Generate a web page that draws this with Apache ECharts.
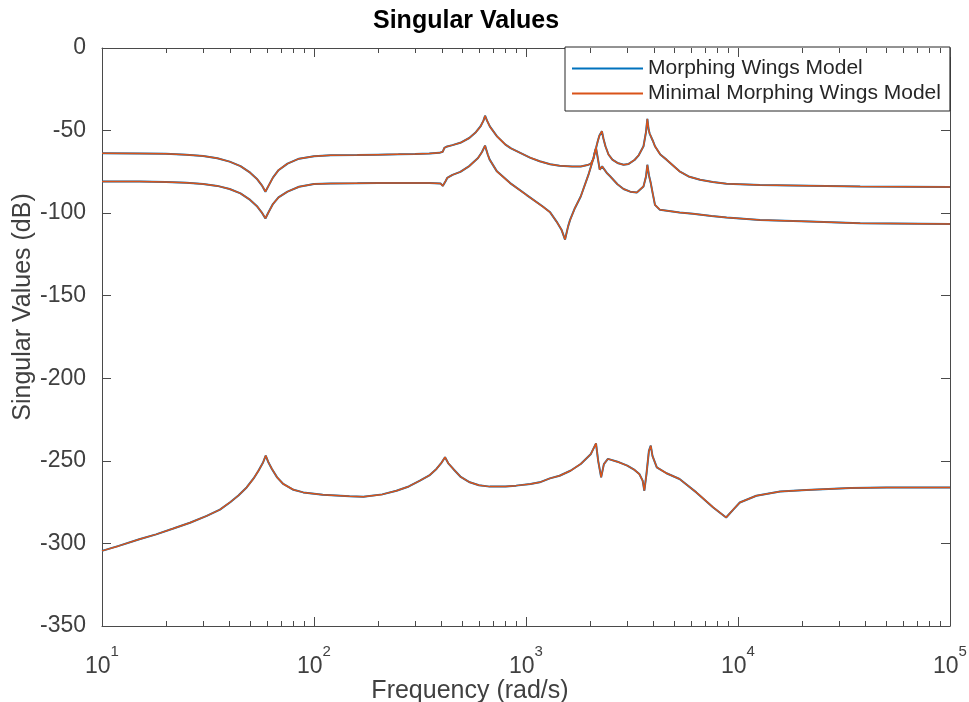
<!DOCTYPE html>
<html>
<head>
<meta charset="utf-8">
<script src="https://cdn.jsdelivr.net/npm/echarts@6/dist/echarts.min.js"></script>
<style>
html,body{margin:0;padding:0;background:#fff;}
#chart{width:969px;height:702px;}
</style>
</head>
<body>
<div id="chart"></div>
<script>
// ---- data: [frequency (rad/s), singular value (dB)] ----
const seriesNames = ['Morphing Wings Model', 'Minimal Morphing Wings Model'];

const sv1 = [[10,-63.8],[15,-63.9],[20,-64.1],[25,-64.6],[30,-65.4],[35,-66.8],[40,-68.8],[45,-71.5],[50,-75.5],[54,-79.5],[57,-83.5],[59,-87],[61,-83.5],[64,-78.5],[68,-74],[75,-70],[85,-67],[100,-65.5],[120,-65],[160,-64.8],[200,-64.6],[250,-64.4],[300,-64.2],[350,-63.9],[390,-63.5],[405,-62.8],[412,-60.5],[425,-59.6],[450,-58.8],[490,-57.4],[540,-54.5],[580,-51],[610,-47.5],[630,-44],[641,-41],[655,-44],[675,-47.5],[730,-53.5],[800,-58.5],[850,-60.8],[950,-63.8],[1050,-66.5],[1160,-68.6],[1300,-70.4],[1440,-71.3],[1650,-71.8],[1812,-71.7],[1950,-70.9],[2024,-70],[2080,-67],[2106,-63.6],[2140,-60.5],[2180,-56.5],[2220,-53],[2280,-50.4],[2320,-55],[2370,-59.5],[2450,-64.5],[2555,-67.6],[2700,-69.6],[2885,-70.7],[3050,-70.2],[3250,-67.8],[3400,-65],[3583,-59.5],[3680,-51],[3736,-42.9],[3790,-49.5],[3830,-51.8],[3890,-52.4],[3960,-56],[4058,-59.5],[4300,-64.5],[4600,-67.6],[5300,-74.7],[5900,-78],[6620,-79.8],[7600,-81.2],[8830,-82.2],[12700,-83],[21700,-83.4],[37700,-83.8],[100000,-84.2]];

const sv2 = [[10,-80.8],[15,-80.9],[20,-81.1],[25,-81.6],[30,-82.3],[35,-83.5],[40,-85.4],[45,-88],[50,-92],[54,-96],[57,-100],[59,-103.2],[61,-99.5],[64,-94.5],[68,-90.5],[75,-87],[85,-84],[100,-82.4],[120,-82],[160,-81.9],[200,-81.8],[250,-81.8],[300,-81.8],[350,-81.7],[395,-82],[405,-83.5],[410,-84.2],[418,-80.5],[425,-78.7],[450,-76.8],[490,-75],[540,-71.5],[594,-66.6],[620,-63],[641,-59.1],[660,-64.5],[674,-67.6],[729,-74.7],[842,-81.8],[1004,-88.9],[1200,-96],[1300,-99.5],[1394,-105.1],[1470,-110],[1528,-116],[1580,-108],[1614,-104.1],[1700,-97],[1812,-89.9],[1971,-76.7],[2082,-66.6],[2139,-60.5],[2190,-68],[2227,-73.7],[2286,-71.7],[2400,-75.5],[2499,-77.8],[2700,-82.5],[2885,-85.4],[3100,-87],[3333,-87.5],[3583,-83.8],[3680,-78],[3736,-70.7],[3800,-77],[3877,-81.8],[3960,-88],[4058,-95],[4283,-98],[5300,-99.6],[6130,-100.4],[7500,-101.7],[8830,-102.7],[12700,-104.1],[21700,-105.1],[37700,-106.1],[100000,-106.5]];

const sv3 = [[10,-304.5],[12,-301.5],[15,-297.5],[18,-294.5],[21.7,-291],[26,-287.5],[31.2,-283.3],[36,-279.5],[40.1,-275.2],[44,-271],[48.1,-266.1],[52,-260.5],[54.7,-256],[57.5,-251],[59.2,-246.8],[61,-251],[63.3,-254.9],[67,-260],[71.6,-264],[80,-267.5],[89,-269.1],[110,-270.5],[147,-271.5],[171,-271.7],[210,-270.3],[245,-268.1],[280,-265.5],[316,-262],[350,-258.8],[378,-254.9],[400,-251],[415,-247.8],[430,-251.5],[454,-254.9],[490,-259.5],[543,-263],[600,-264.8],[674,-265.6],[800,-265.5],[898,-265],[1050,-264],[1160,-263],[1296,-260.6],[1440,-259],[1620,-256],[1812,-251.9],[2024,-245.8],[2139,-239.4],[2190,-250],[2262,-260],[2330,-252],[2434,-248.8],[2700,-250.5],[3004,-252.9],[3250,-255.5],[3425,-258],[3550,-262],[3616,-268.1],[3700,-258],[3800,-244],[3877,-240.8],[3950,-247],[4140,-253.9],[4600,-257.5],[5300,-261],[6360,-269.1],[7640,-278.2],[8790,-284.3],[9500,-279.5],[10200,-275.2],[12200,-271.1],[15800,-268.5],[21000,-267.6],[34000,-266.5],[50300,-266.1],[100000,-266.1]];

// tick values
const majorTicks = [10,100,1000,10000,100000];
const minorTicks = [20,30,40,50,60,70,80,90,200,300,400,500,600,700,800,900,2000,3000,4000,5000,6000,7000,8000,9000,20000,30000,40000,50000,60000,70000,80000,90000];
const yTopValue = 0;

const FONT = '"Liberation Sans", Arial, Helvetica, sans-serif';
const AX = '#4a4a4a';
const TXT = '#404040';
const BLUE = '#0072BD';
const ORANGE = '#D95319';
const MAJOR_LEN = 9, MINOR_LEN = 5;

const chart = echarts.init(document.getElementById('chart'));

function logAxis(extra) {
  return Object.assign({
    type: 'log', logBase: 10, min: 10, max: 100000, gridIndex: 0,
    splitLine: {show: false}, minorTick: {show: false}, minorSplitLine: {show: false}
  }, extra);
}

const xAxes = [
  logAxis({
    position: 'bottom',
    axisLine: {show: true, onZero: false, lineStyle: {color: AX, width: 1}},
    axisTick: {show: true, inside: true, length: MAJOR_LEN, lineStyle: {color: AX}},
    axisLabel: {
      show: true, margin: 18,
      formatter: function (v) { return '{b|10}{s|' + Math.round(Math.log10(v)) + '}'; },
      rich: {
        b: {fontSize: 23, lineHeight: 34, verticalAlign: 'bottom', color: TXT, fontFamily: FONT},
        s: {fontSize: 15, lineHeight: 12, verticalAlign: 'top', color: TXT, fontFamily: FONT}
      }
    },
    name: 'Frequency (rad/s)', nameLocation: 'middle', nameGap: 53, nameMoveOverlap: false,
    nameTextStyle: {fontSize: 25, color: TXT, fontFamily: FONT, padding: [0, 112, 0, 0]}
  }),
  logAxis({
    position: 'bottom',
    axisLine: {show: false, onZero: false},
    axisTick: {show: true, inside: true, length: MINOR_LEN, customValues: minorTicks, lineStyle: {color: AX}},
    axisLabel: {show: false}
  }),
  logAxis({
    position: 'top',
    axisLine: {show: true, onZero: false, lineStyle: {color: AX, width: 1}},
    axisTick: {show: false},
    axisLabel: {show: false}
  })
];

const yBase = {
  type: 'value', min: -350, max: 0, interval: 50, gridIndex: 0,
  splitLine: {show: false}
};

const yAxes = [
  Object.assign({}, yBase, {
    position: 'left',
    axisLine: {show: true, onZero: false, lineStyle: {color: AX, width: 1}},
    axisTick: {show: true, inside: true, length: MAJOR_LEN, lineStyle: {color: AX}},
    axisLabel: {show: true, margin: 16, fontSize: 23, color: TXT, fontFamily: FONT},
    name: 'Singular Values (dB)', nameLocation: 'middle', nameGap: 66, nameMoveOverlap: false,
    nameTextStyle: {fontSize: 25, color: TXT, fontFamily: FONT, padding: [0, 0, 0, 60]}
  }),
  Object.assign({}, yBase, {
    position: 'right',
    axisLine: {show: true, onZero: false, lineStyle: {color: AX, width: 1}},
    axisTick: {show: true, inside: true, length: MAJOR_LEN, lineStyle: {color: AX}},
    axisLabel: {show: false}
  })
];

function lineSeries(name, data, color, width) {
  return {
    type: 'line', name: name, data: data, xAxisIndex: 0, yAxisIndex: 0,
    symbol: 'none', showSymbol: false, smooth: false, clip: true,
    lineStyle: {color: color, width: width}, itemStyle: {color: color},
    emphasis: {disabled: true}
  };
}

const curves = [sv1, sv2, sv3];
const series = [];
curves.forEach(function (c) { series.push(lineSeries(seriesNames[0], c, BLUE, 2)); });
curves.forEach(function (c) { series.push(lineSeries(seriesNames[1], c, ORANGE, 1.5)); });

// mirrored ticks along the top edge, placed by the chart's own log scale
const nMajor = majorTicks.length;
series.push({
  type: 'custom', name: 'top ticks', coordinateSystem: 'cartesian2d',
  xAxisIndex: 0, yAxisIndex: 0, clip: false, silent: true, z: 50,
  data: majorTicks.concat(minorTicks).map(function (v) { return [v, yTopValue]; }),
  renderItem: function (params, api) {
    const p = api.coord([api.value(0), api.value(1)]);
    const len = params.dataIndex < nMajor ? MAJOR_LEN : MINOR_LEN;
    const x = Math.round(p[0]) + 0.5;
    return {
      type: 'line',
      shape: {x1: x, y1: p[1], x2: x, y2: p[1] + len},
      style: {stroke: AX, lineWidth: 1}
    };
  }
});

chart.setOption({
  animation: false,
  backgroundColor: '#ffffff',
  title: {
    text: 'Singular Values', left: 373, top: 9, padding: 0,
    textStyle: {fontSize: 25, fontWeight: 'bold', color: '#000', fontFamily: FONT}
  },
  grid: {left: 102, right: 19, top: 48, bottom: 76, containLabel: false, outerBoundsMode: 'none'},
  legend: {
    data: seriesNames, orient: 'vertical', left: 565, top: 47,
    padding: [11, 9, 7, 7], itemGap: 4, itemWidth: 71, itemHeight: 2, itemTextGap: 5,
    icon: 'rect',
    borderColor: '#262626', borderWidth: 1, backgroundColor: '#ffffff',
    textStyle: {fontSize: 21, color: '#262626', fontFamily: FONT},
    selectedMode: false
  },
  xAxis: xAxes,
  yAxis: yAxes,
  series: series
});
</script>
</body>
</html>
